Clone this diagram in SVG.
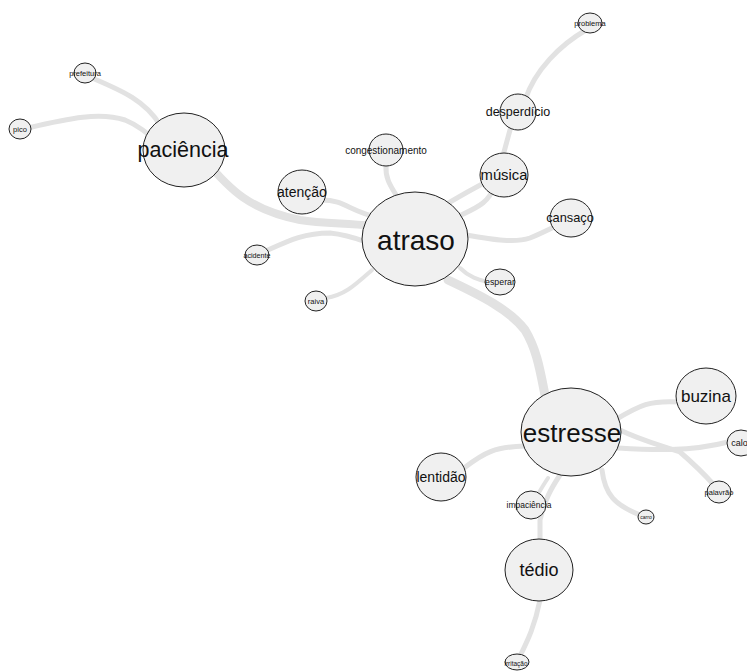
<svg xmlns="http://www.w3.org/2000/svg" width="747" height="671" viewBox="0 0 747 671">
<style>
.e{fill:none;stroke:#e2e2e2;stroke-linecap:round}
.n ellipse{fill:#f0f0f0;stroke:#222;stroke-width:1}
.n text{font-family:"Liberation Sans",Arial,sans-serif;fill:#111;text-anchor:middle;dominant-baseline:central}
</style>
<rect width="747" height="671" fill="#fff"/>
<g id="edges">
<path class="e" stroke-width="8" d="M205,160 C230,190 250,210 300,220 C330,225 360,222 400,230"/>
<path class="e" stroke-width="5" d="M92,78 C120,90 145,100 160,125"/>
<path class="e" stroke-width="5" d="M28,128 C70,118 100,112 125,120 C140,126 150,135 160,145"/>
<path class="e" stroke-width="5" d="M322,200 C345,200 350,212 380,218"/>
<path class="e" stroke-width="5" d="M386,165 C385,180 392,188 398,198"/>
<path class="e" stroke-width="5" d="M440,208 C460,196 470,190 490,180"/>
<path class="e" stroke-width="5" d="M455,218 C475,208 488,205 495,185 L510,130"/>
<path class="e" stroke-width="5" d="M586,30 C560,45 535,70 525,100"/>
<path class="e" stroke-width="5" d="M466,235 C495,240 515,243 530,238 C540,234 548,230 558,225"/>
<path class="e" stroke-width="4" d="M460,268 C470,278 480,280 488,282"/>
<path class="e" stroke-width="5" d="M268,250 C290,240 305,233 330,233 C350,235 360,240 375,245"/>
<path class="e" stroke-width="4" d="M326,298 C345,295 355,285 372,270"/>
<path class="e" stroke-width="9" d="M448,280 C480,295 510,310 525,330 C537,350 540,370 545,395"/>
<path class="e" stroke-width="5" d="M615,420 C640,405 650,400 680,402"/>
<path class="e" stroke-width="5" d="M618,448 C650,450 690,452 728,442"/>
<path class="e" stroke-width="5" d="M620,430 C640,440 660,445 680,452 C695,465 705,475 714,485"/>
<path class="e" stroke-width="5" d="M602,470 C605,495 615,505 640,515"/>
<path class="e" stroke-width="5" d="M464,468 C485,452 495,447 525,446"/>
<path class="e" stroke-width="5" d="M560,475 C550,490 545,500 540,520 L540,545"/>
<path class="e" stroke-width="4" d="M548,478 C540,490 535,500 528,510"/>
<path class="e" stroke-width="5" d="M540,600 C535,625 528,640 520,656"/>
</g>
<g id="n-paciencia" class="n"><ellipse cx="184" cy="150" rx="41" ry="37"/><text x="183" y="150" font-size="21.5">paciência</text></g>
<g id="n-prefeitura" class="n"><ellipse cx="85" cy="73" rx="11" ry="10"/><text x="85" y="73" font-size="7.5">prefeitura</text></g>
<g id="n-pico" class="n"><ellipse cx="20" cy="129" rx="11" ry="10"/><text x="20" y="129" font-size="7.5">pico</text></g>
<g id="n-atencao" class="n"><ellipse cx="302" cy="192" rx="24" ry="22"/><text x="302" y="192" font-size="14">atenção</text></g>
<g id="n-congestionamento" class="n"><ellipse cx="386" cy="150" rx="17" ry="16"/><text x="386" y="150" font-size="10">congestionamento</text></g>
<g id="n-musica" class="n"><ellipse cx="504" cy="175" rx="24" ry="22"/><text x="504" y="175" font-size="14.8">música</text></g>
<g id="n-desperdicio" class="n"><ellipse cx="518" cy="112" rx="18" ry="18"/><text x="518" y="112" font-size="12.5">desperdício</text></g>
<g id="n-problema" class="n"><ellipse cx="590" cy="23" rx="12" ry="10"/><text x="590" y="23" font-size="7.5">problema</text></g>
<g id="n-cansaco" class="n"><ellipse cx="571" cy="218" rx="21" ry="19"/><text x="570" y="217" font-size="12.8">cansaço</text></g>
<g id="n-esperar" class="n"><ellipse cx="500" cy="282" rx="15" ry="13"/><text x="500" y="282" font-size="8.8">esperar</text></g>
<g id="n-acidente" class="n"><ellipse cx="257" cy="255" rx="12" ry="10"/><text x="257" y="255" font-size="7.2">acidente</text></g>
<g id="n-raiva" class="n"><ellipse cx="316" cy="301" rx="11" ry="10"/><text x="316" y="301" font-size="7.5">raiva</text></g>
<g id="n-atraso" class="n"><ellipse cx="415" cy="239" rx="53" ry="47"/><text x="416" y="240" font-size="28">atraso</text></g>
<g id="n-estresse" class="n"><ellipse cx="571" cy="432" rx="50" ry="44"/><text x="572" y="433" font-size="26">estresse</text></g>
<g id="n-buzina" class="n"><ellipse cx="706" cy="396" rx="30" ry="28"/><text x="706" y="396" font-size="17">buzina</text></g>
<g id="n-calor" class="n"><ellipse cx="741" cy="443" rx="14" ry="13"/><text x="741" y="443" font-size="9">calor</text></g>
<g id="n-palavrao" class="n"><ellipse cx="719" cy="492" rx="12" ry="11"/><text x="719" y="492" font-size="7.5">palavrão</text></g>
<g id="n-carro" class="n"><ellipse cx="646" cy="517" rx="8" ry="7"/><text x="646" y="517" font-size="5">carro</text></g>
<g id="n-lentidao" class="n"><ellipse cx="441" cy="477" rx="25" ry="24"/><text x="441" y="477" font-size="14">lentidão</text></g>
<g id="n-impaciencia" class="n"><ellipse cx="531" cy="505" rx="15" ry="14"/><text x="529" y="505" font-size="8.5">impaciência</text></g>
<g id="n-tedio" class="n"><ellipse cx="539" cy="570" rx="34" ry="31"/><text x="539" y="570" font-size="18">tédio</text></g>
<g id="n-irritacao" class="n"><ellipse cx="517" cy="662" rx="12" ry="8"/><text x="516" y="663" font-size="6.5">irritação</text></g>
</svg>
